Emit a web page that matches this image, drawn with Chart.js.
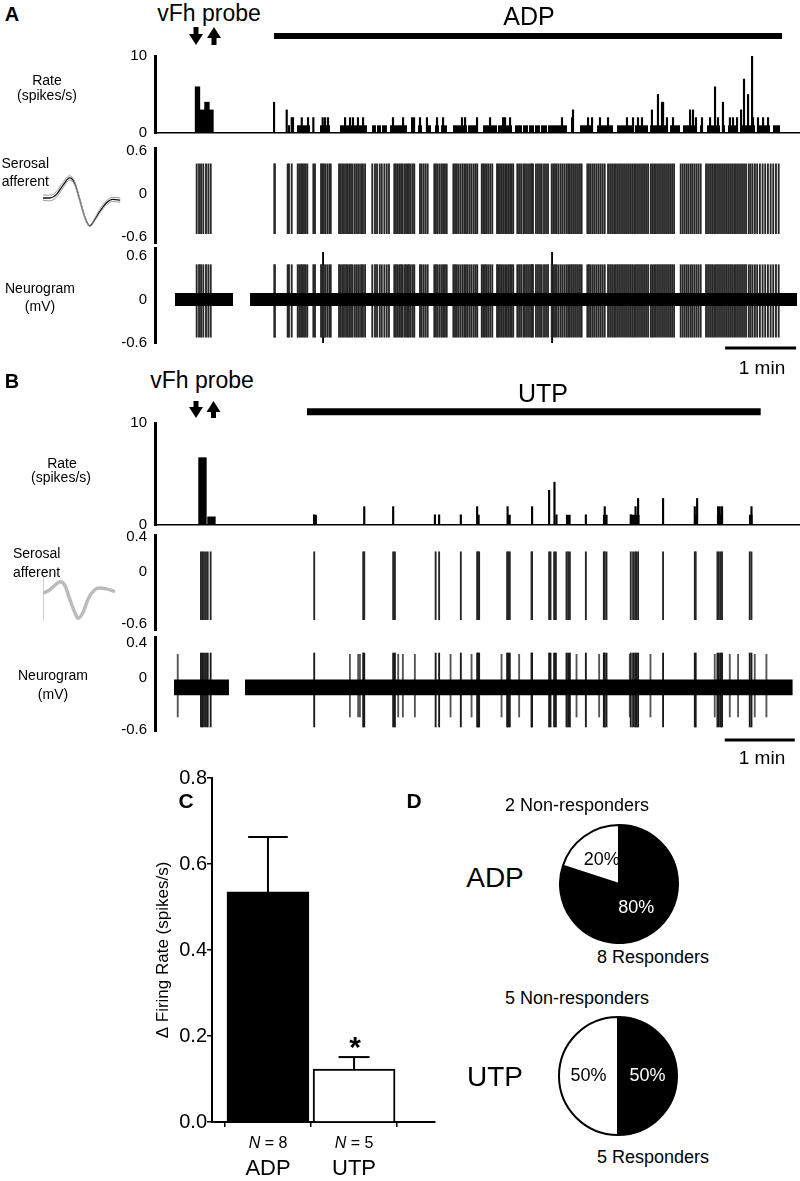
<!DOCTYPE html>
<html>
<head>
<meta charset="utf-8">
<script src="https://cdn.jsdelivr.net/npm/chart.js@4.4.0/dist/chart.umd.min.js"></script>
<style>
body { margin: 0; background: #fff; }
#fig { position: relative; width: 800px; height: 1181px; overflow: hidden; background: #fff;
       font-family: "Liberation Sans", Arial, sans-serif; color: #000; }
#fig canvas { position: absolute; }
.t { position: absolute; line-height: 1; white-space: nowrap; }
</style>
</head>
<body>
<div id="fig">
<svg id="arrows" width="800" height="1181" style="position:absolute;left:0;top:0"></svg>
</div>
<script>
// ---------- datos panel A (tiempo en s, 0 = inicio del registro) ----------
const spikeTimesA = [35.2, 37.2, 38.9, 40.8, 43.1, 45.1, 47.1,
  100.8, 101.3, 112.1, 113.2, 115.5,
  120.6, 121.9, 123.4, 124.5, 125.9, 127.3, 128.7, 133.8, 135.2,
  140.3, 141.4, 142.6, 143.9, 145.6, 147.3, 148.5,
  155.5, 156.9, 158.3, 159.7, 161.4, 162.8, 164.1, 165.6, 167.0, 168.9, 170.6, 172.3, 174.1, 175.7, 177.5,
  183.6, 185.9, 187.6, 189.9, 191.6, 193.8, 195.8, 197.7,
  202.2, 203.6, 205.1, 206.4, 207.9, 209.0, 210.7, 212.1, 213.5, 214.6, 216.1, 217.8, 219.1,
  223.9, 225.3, 227.0, 228.7, 230.4,
  236.0, 237.4, 238.9, 240.6, 242.3, 243.6, 245.0, 246.5,
  252.1, 253.5, 254.9, 256.3, 258.0, 259.7, 261.3, 262.7, 264.2, 265.9, 267.5, 269.3, 270.9, 272.3,
  276.1, 277.3, 278.8, 280.2, 281.6, 283.3, 285.0,
  289.0, 290.0, 291.5, 292.9, 294.2, 295.8, 297.2, 298.5, 300.0, 301.4, 302.7,
  306.1, 307.6, 309.3, 311.2, 312.6, 314.3, 316.0, 317.7, 318.5, 319.4,
  321.9, 323.6, 325.3, 326.8, 328.7, 330.4, 332.1,
  335.2, 336.5, 338.0, 339.4, 341.0, 342.8, 344.4, 346.1, 347.8, 349.2, 350.6, 352.3, 354.0, 355.7, 357.4, 359.1, 360.5,
  365.3, 366.7, 368.2, 369.9, 371.5, 373.2, 374.9, 376.6, 378.3, 380.0,
  382.8, 384.5, 386.2, 387.9, 389.5, 391.2, 392.9, 394.6, 396.3, 398.0, 399.7,
  401.4, 403.1, 404.8, 406.4, 408.1, 409.8, 411.5, 413.2, 414.9, 416.6,
  418.9, 420.2, 421.7, 423.3, 425.0, 426.7, 428.4, 430.1, 431.8, 433.5, 435.2, 436.9, 438.6,
  444.2, 445.9, 447.6, 449.3, 450.9, 452.7, 454.2, 455.9, 457.6, 459.3, 461.1,
  465.6, 467.3, 469.0, 470.7, 472.4, 474.0, 475.7, 477.4, 479.1, 480.8, 482.5, 484.2, 485.9, 487.6, 489.3,
  490.9, 492.6, 494.3, 496.0, 497.7, 499.4,
  501.7, 503.2, 504.9, 506.9, 508.8, 511.1, 513.4, 515.6, 517.9, 520.2, 522.4, 524.7, 527.0];
const bigSpikesA = [142.0, 335.5];
const preRateTimesA = [35.9, 40.1, 43.9, 47.3];
const preRateA = [6, 3, 4, 3];
// picos del histograma [t, spikes/s]
const rateAPeaks = [[100.6, 4], [111.3, 3], [115.5, 2], [116.6, 2], [124.0, 2], [129.3, 2], [133.8, 2],
  [141.7, 2], [143.7, 2], [146.2, 2], [160.6, 2], [164.8, 2], [167.3, 2], [171.5, 2], [175.8, 2],
  [201.1, 2], [209.6, 2], [217.2, 2], [218.9, 2], [223.9, 2], [229.8, 2], [238.3, 2], [243.4, 2],
  [259.4, 2], [262.0, 2], [272.1, 2], [283.1, 2], [294.1, 2], [295.8, 2], [300.0, 2], [343.9, 2],
  [352.4, 2], [353.2, 3], [365.9, 2], [369.3, 2], [376.0, 2], [382.8, 2], [398.8, 2], [403.9, 2],
  [408.1, 2], [411.5, 2], [419.9, 3], [425.0, 5], [428.4, 4], [429.3, 4], [432.6, 2], [437.7, 2],
  [452.1, 3], [454.6, 3], [457.1, 2], [462.2, 2], [469.0, 2], [473.2, 6], [475.7, 2], [479.9, 4],
  [485.8, 2], [488.4, 2], [491.8, 2], [495.2, 3], [497.7, 7], [501.1, 5], [504.5, 11], [505.3, 2],
  [509.5, 2], [513.8, 2], [518.0, 2]];
// tramos con 1 spike/s [inicio, fin]
const rateABlocks = [[112.4, 114.1], [120.0, 131.0], [139.4, 147.9], [156.3, 179.1], [183.4, 186.7],
  [187.6, 191.0], [191.8, 196.0], [198.6, 207.0], [207.0, 212.9], [222.2, 225.6], [229.0, 233.2],
  [236.6, 240.0], [241.7, 246.7], [251.8, 263.6], [264.5, 272.1], [277.2, 289.0], [289.8, 301.7],
  [304.2, 310.1], [311.0, 315.2], [316.0, 320.3], [321.1, 325.3], [326.2, 331.2], [332.1, 348.1],
  [359.1, 370.1], [373.5, 387.0], [390.4, 403.9], [405.6, 416.6], [418.3, 432.7], [435.2, 443.6],
  [446.1, 458.0], [460.5, 463.1], [466.4, 477.4], [479.9, 481.7], [484.1, 491.8], [494.3, 507.0],
  [508.7, 519.7], [522.2, 528.1]];
const noiseA = [[16.9, 65.9], [80.3, 542.5]];
const adpOn = [100.6, 529.8];

// ---------- datos panel B ----------
const spikeTimesB = [39.4, 40.5, 42.0, 43.7, 45.2, 47.7, 136.5, 178.5, 179.4, 204.2, 205.7, 240.6, 243.6,
  262.2, 276.2, 277.1, 277.9, 301.9, 303.1, 304.2, 322.8, 323.3, 337.9, 339.1, 342.2, 343.7, 352.8,
  354.2, 355.7, 369.4, 384.8, 385.6, 387.1, 407.9, 409.9, 411.6, 412.8, 414.2, 435.6, 462.8, 463.6,
  482.2, 483.5, 485.1, 486.2, 509.9, 511.4];
const extraSpikesB = [19.5, 167.1, 174.2, 175.7, 208.5, 212.5, 222.8, 253.4, 271.4, 297.1, 312.2, 361.4,
  380.8, 407.1, 424.8, 479.9, 492.8, 499.9, 514.2, 524.2];
const preRateTimesB = [40.7, 48.4];
const preRateB = [6.6, 0.8];
const rateBPeaks = [[136.5, 1.0], [179.4, 1.8], [204.2, 1.8], [240.0, 1.0], [243.6, 1.0], [262.2, 1.0],
  [276.2, 1.8], [302.3, 1.8], [323.3, 1.8], [337.9, 3.4], [342.5, 4.2], [344.2, 1.0], [369.4, 1.0],
  [385.6, 1.8], [407.9, 1.0], [412.0, 1.8], [414.2, 2.6], [435.6, 2.6], [462.8, 1.8], [464.8, 2.6],
  [482.8, 1.8], [484.2, 1.8], [486.2, 1.8], [511.4, 1.8]];
const rateBBlocks = [[135.4, 138.8], [275.9, 278.5], [301.7, 305.1], [352.2, 356.5], [383.9, 388.2],
  [407.1, 415.6], [461.9, 465.4], [481.6, 486.7], [509.1, 512.5]];
const noiseB = [[16.3, 63.4], [77.1, 546.8]];
const utpOn = [130.3, 519.3];

// forma media de la espiga (ms, mV)
const waveTimesA = [0, 0.17, 0.35, 0.52, 0.69, 0.82, 0.95, 1.08, 1.21, 1.34, 1.47, 1.64, 1.81, 2.0];
const waveA = [0, 0, 0.05, 0.18, 0.28, 0.21, -0.02, -0.26, -0.39, -0.30, -0.19, -0.07, -0.02, -0.03];
const waveAHi = [0.04, 0.04, 0.09, 0.22, 0.31, 0.23, 0.0, -0.25, -0.38, -0.28, -0.16, -0.04, 0.01, 0.0];
const waveALo = [-0.03, -0.04, 0.01, 0.14, 0.25, 0.18, -0.05, -0.28, -0.40, -0.32, -0.21, -0.10, -0.05, -0.06];
const waveTimesB = [0, 0.19, 0.33, 0.47, 0.61, 0.74, 0.88, 0.98, 1.12, 1.26, 1.44, 1.58, 1.77, 2.0];
const waveB = [0, 0.04, 0.09, 0.13, 0.09, -0.06, -0.21, -0.28, -0.21, -0.06, 0.04, 0.06, 0.05, 0.02];

// ---------- datos C y D ----------
const cCats = ['ADP', 'UTP'];
const cN = [8, 5];
const cMean = [0.535, 0.123];
const cSem = [0.128, 0.028];
const pieCats = ['Responders', 'Non-responders'];
const adpCounts = [8, 2];
const utpCounts = [5, 5];

Chart.defaults.font.family = '"Liberation Sans", Arial, sans-serif';
Chart.defaults.color = '#000';

const fig = document.getElementById('fig');

function addCanvas(left, top, w, h) {
  const c = document.createElement('canvas');
  c.width = w; c.height = h;
  c.style.left = left + 'px'; c.style.top = top + 'px';
  c.style.width = w + 'px'; c.style.height = h + 'px';
  fig.appendChild(c);
  return c;
}

function text(str, x, y, size, opt) {
  opt = opt || {};
  const d = document.createElement('div');
  d.className = 't';
  d.innerHTML = str;
  d.style.left = x + 'px';
  d.style.top = y + 'px';
  d.style.fontSize = size + 'px';
  if (opt.bold) d.style.fontWeight = 'bold';
  const ax = opt.align === 'right' ? '-100%' : (opt.align === 'left' ? '0' : '-50%');
  d.style.transform = 'translate(' + ax + ',-50%)';
  fig.appendChild(d);
}

const fmt = v => Number.isInteger(v) ? String(v) : v.toFixed(1);

// area = [arriba, abajo] en px de la pagina; pad = [arriba, abajo]
function traceChart(area, pad, xMax, yMin, yMax, tickVals, datasets, showBase) {
  const canvas = addCanvas(100, area[0] - pad[0], 700, area[1] - area[0] + pad[0] + pad[1]);
  return new Chart(canvas, {
    type: 'bar',
    data: { datasets: datasets },
    options: {
      responsive: false,
      animation: false,
      events: [],
      layout: { autoPadding: false, padding: { top: pad[0], bottom: pad[1], left: 0, right: 0 } },
      plugins: { legend: { display: false }, tooltip: { enabled: false } },
      scales: {
        x: {
          type: 'linear', min: 0, max: xMax, offset: false, display: showBase,
          ticks: { display: false },
          grid: { display: false, drawTicks: false },
          border: { display: true, color: '#000', width: 1.5 }
        },
        y: {
          type: 'linear', min: yMin, max: yMax,
          afterFit: s => { s.width = 55; },
          afterBuildTicks: s => { s.ticks = tickVals.map(v => ({ value: v })); },
          ticks: { padding: 8, color: '#000', font: { size: 15 }, callback: v => fmt(v) },
          grid: { display: false, drawTicks: false },
          border: { display: true, color: '#000', width: 3 }
        }
      }
    }
  });
}

function spikeSet(times, lo, hi, color) {
  return { type: 'bar', data: times.map(t => ({ x: t, y: [lo, hi] })), backgroundColor: color,
           barThickness: 1.2, grouped: false };
}
function bandSets(segs, mid, half) {
  return segs.map(s => ({ type: 'line', data: [{ x: s[0], y: mid + half }, { x: s[1], y: mid + half }],
    borderWidth: 0, pointRadius: 0, fill: { value: mid - half }, backgroundColor: '#000' }));
}
function blockSet(blocks, level) {
  const pts = [];
  blocks.forEach(b => { pts.push({ x: b[0], y: level }, { x: b[1], y: level }, { x: b[1], y: null }); });
  return { type: 'line', data: pts, borderWidth: 0, pointRadius: 0, fill: 'origin', backgroundColor: '#000', spanGaps: false };
}
function peakSet(peaks) {
  return { type: 'bar', data: peaks.map(p => ({ x: p[0], y: p[1] })), backgroundColor: '#000', barThickness: 1.5, grouped: false };
}
function preSet(times, vals, w) {
  return { type: 'bar', data: times.map((t, i) => ({ x: t, y: vals[i] })), backgroundColor: '#000', barThickness: w, grouped: false };
}
function hLine(x0, x1, y, w) {
  return { type: 'line', data: [{ x: x0, y: y }, { x: x1, y: y }], borderColor: '#000', borderWidth: w,
           pointRadius: 0, fill: false, clip: false };
}

// ---------- Panel A ----------
const xMaxA = 545;
traceChart([56, 133], [30, 20], xMaxA, 0, 10, [0, 10], [
  hLine(adpOn[0], adpOn[1], 12.6, 6),
  preSet(preRateTimesA, preRateA, 4.7),
  blockSet(rateABlocks, 1),
  peakSet(rateAPeaks)
], true);

traceChart([148, 243], [20, 20], xMaxA, -0.68, 0.64, [-0.6, 0, 0.6], [
  spikeSet(spikeTimesA, -0.55, 0.42, '#262626')
], false);

traceChart([248, 343], [20, 20], xMaxA, -0.6, 0.71, [-0.6, 0, 0.6], [
  ...bandSets(noiseA, 0, 0.09),
  spikeSet(spikeTimesA, -0.52, 0.48, '#262626'),
  spikeSet(bigSpikesA, -0.67, 0.65, '#000'),
  hLine(481.7, 541.7, -0.67, 3)
], false);

// ---------- Panel B ----------
const xMaxB = 553;
traceChart([423, 525], [22, 20], xMaxB, 0, 10, [0, 10], [
  hLine(utpOn[0], utpOn[1], 11.1, 7),
  preSet(preRateTimesB, preRateB, 7.7),
  blockSet(rateBBlocks, 1),
  peakSet(rateBPeaks)
], true);

traceChart([535, 630], [20, 20], xMaxB, -0.669, 0.423, [-0.6, 0, 0.4], [
  spikeSet(spikeTimesB, -0.55, 0.23, '#262626')
], false);

traceChart([637, 731], [20, 20], xMaxB, -0.611, 0.469, [-0.6, 0, 0.4], [
  ...bandSets(noiseB, -0.11, 0.09),
  spikeSet(spikeTimesB, -0.565, 0.285, '#1a1a1a'),
  spikeSet(extraSpikesB, -0.45, 0.27, '#555'),
  hLine(488.5, 548.5, -0.715, 3)
], false);

// ---------- formas de espiga ----------
function insetChart(canvas, times, traces, yMin, yMax, xMax, frame) {
  return new Chart(canvas, {
    type: 'line',
    data: { datasets: traces.map(tr => ({
      data: times.map((t, i) => ({ x: t, y: tr.v[i] })), borderColor: tr.c, borderWidth: tr.w,
      pointRadius: 0, cubicInterpolationMode: 'monotone', fill: false })) },
    options: {
      responsive: false, animation: false, events: [],
      layout: { autoPadding: false, padding: 0 },
      plugins: { legend: { display: false }, tooltip: { enabled: false } },
      scales: {
        x: { type: 'linear', min: 0, max: xMax, display: frame, ticks: { display: false },
             grid: { display: false, drawTicks: false }, border: { display: frame, color: '#ccc', width: 1 } },
        y: { min: yMin, max: yMax, display: frame, ticks: { display: false },
             grid: { display: false, drawTicks: false }, border: { display: frame, color: '#ccc', width: 1 } }
      }
    }
  });
}
insetChart(addCanvas(43, 170, 78, 65), waveTimesA, [
  { v: waveAHi, c: '#999', w: 1 }, { v: waveALo, c: '#999', w: 1 }, { v: waveA, c: '#111', w: 1.3 }
], -0.516, 0.39, 2.02, false);
insetChart(addCanvas(43, 576, 74, 44), waveTimesB, [
  { v: waveB, c: '#bbb', w: 3.5 }, { v: waveB, c: '#444', w: 1.2 }
], -0.30, 0.195, 2.06, true);

// ---------- Panel C ----------
const capHalf = [0.23, 0.18];
const cSets = [{
  type: 'bar', data: cMean.map((m, i) => ({ x: i + 1, y: m })), backgroundColor: ['#000', '#fff'],
  borderColor: '#000', borderWidth: 2, barThickness: 82, grouped: false
}];
cMean.forEach((m, i) => {
  const top = m + cSem[i];
  cSets.push({ type: 'line', data: [{ x: i + 1, y: m }, { x: i + 1, y: top }], borderColor: '#000', borderWidth: 2, pointRadius: 0 });
  cSets.push({ type: 'line', data: [{ x: i + 1 - capHalf[i], y: top }, { x: i + 1 + capHalf[i], y: top }], borderColor: '#000', borderWidth: 2, pointRadius: 0 });
});
// area del grafico: x 212-435, y 778-1122
new Chart(addCanvas(140, 760, 300, 387), {
  type: 'bar',
  data: { datasets: cSets },
  options: {
    responsive: false, animation: false, events: [],
    layout: { autoPadding: false, padding: { top: 18, bottom: 20, left: 0, right: 5 } },
    plugins: { legend: { display: false }, tooltip: { enabled: false } },
    scales: {
      x: {
        type: 'linear', min: 0.35, max: 2.94, offset: false,
        afterBuildTicks: s => { s.ticks = cCats.map((c, i) => ({ value: i + 1 })); },
        ticks: { display: false },
        grid: { display: true, drawOnChartArea: false, drawTicks: true, tickLength: 5, color: '#000', lineWidth: 1.5 },
        border: { display: true, color: '#000', width: 2 }
      },
      y: {
        min: 0, max: 0.8,
        afterFit: s => { s.width = 72; },
        ticks: { stepSize: 0.2, padding: 0, color: '#000', font: { size: 20 }, callback: v => v.toFixed(1) },
        grid: { display: true, drawOnChartArea: false, drawTicks: true, tickLength: 5, color: '#000', lineWidth: 1.5 },
        border: { display: true, color: '#000', width: 2 },
        title: { display: true, text: '\u0394 Firing Rate (spikes/s)', color: '#000', font: { size: 17 }, padding: { top: 13, bottom: 0 } }
      }
    }
  }
});

// ---------- Panel D ----------
const pctLabels = {
  id: 'pctLabels',
  afterDatasetsDraw(chart) {
    const ctx = chart.ctx;
    const ds = chart.data.datasets[0];
    const sum = ds.data.reduce((a, b) => a + b, 0);
    chart.getDatasetMeta(0).data.forEach((arc, i) => {
      const p = arc.tooltipPosition();
      ctx.save();
      ctx.fillStyle = ds.backgroundColor[i] === '#000' ? '#fff' : '#000';
      ctx.font = '18px "Liberation Sans", Arial, sans-serif';
      ctx.textAlign = 'center';
      ctx.textBaseline = 'middle';
      ctx.fillText(Math.round(ds.data[i] / sum * 100) + '%', p.x, p.y);
      ctx.restore();
    });
  }
};
function pieChart(canvas, counts) {
  return new Chart(canvas, {
    type: 'pie',
    data: { labels: pieCats, datasets: [{ data: counts, backgroundColor: ['#000', '#fff'], borderColor: '#000', borderWidth: 2 }] },
    options: { responsive: false, animation: false, events: [], layout: { padding: 0 },
               plugins: { legend: { display: false }, tooltip: { enabled: false } } },
    plugins: [pctLabels]
  });
}
pieChart(addCanvas(559, 824, 120, 120), adpCounts);
pieChart(addCanvas(558, 1016, 120, 120), utpCounts);

// ---------- flechas vFh ----------
function arrow(cx, y0, y1, up) {
  const sw = 5, hw = 7, hh = 11;
  let pts;
  if (!up) {
    pts = [[cx - sw / 2, y0], [cx + sw / 2, y0], [cx + sw / 2, y1 - hh], [cx + hw, y1 - hh], [cx, y1], [cx - hw, y1 - hh], [cx - sw / 2, y1 - hh]];
  } else {
    pts = [[cx - sw / 2, y1], [cx + sw / 2, y1], [cx + sw / 2, y0 + hh], [cx + hw, y0 + hh], [cx, y0], [cx - hw, y0 + hh], [cx - sw / 2, y0 + hh]];
  }
  return '<polygon fill="#000" points="' + pts.map(p => p.join(',')).join(' ') + '"/>';
}
document.getElementById('arrows').innerHTML =
  arrow(196, 27, 45, false) + arrow(214, 27, 45, true) +
  arrow(196, 401, 418, false) + arrow(213.5, 401, 418, true);

// ---------- textos ----------
text('A', 12, 14, 20, { bold: true });
text('vFh probe', 209, 13, 23);
text('ADP', 529, 16, 25);
text('Rate', 47, 80, 14);
text('(spikes/s)', 47, 95, 14);
text('Serosal', 49, 163, 14, { align: 'right' });
text('afferent', 49, 181, 14, { align: 'right' });
text('Neurogram', 40, 288, 14);
text('(mV)', 40, 306, 14);
text('1 min', 762, 367, 19);

text('B', 12, 381, 20, { bold: true });
text('vFh probe', 202, 380, 23);
text('UTP', 543, 393, 25);
text('Rate', 62, 463, 14);
text('(spikes/s)', 61, 477, 14);
text('Serosal', 13, 553, 14, { align: 'left' });
text('afferent', 13, 572, 14, { align: 'left' });
text('Neurogram', 53, 675, 14);
text('(mV)', 53, 694, 14);
text('1 min', 762, 757, 19);

text('C', 186, 800, 21, { bold: true });
text('<i>N</i> = ' + cN[0], 268, 1143, 16);
text('<i>N</i> = ' + cN[1], 354, 1143, 16);
text(cCats[0], 268, 1168, 22);
text(cCats[1], 354, 1168, 22);
text('*', 355, 1047, 30, { bold: true });

text('D', 414, 800, 21, { bold: true });
text(adpCounts[1] + ' ' + pieCats[1], 577, 805, 18);
text(cCats[0], 495, 878, 28);
text(adpCounts[0] + ' ' + pieCats[0], 653, 957, 18);
text(utpCounts[1] + ' ' + pieCats[1], 577, 998, 18);
text(cCats[1], 495, 1077, 28);
text(utpCounts[0] + ' ' + pieCats[0], 653, 1157, 18);
</script>
</body>
</html>
